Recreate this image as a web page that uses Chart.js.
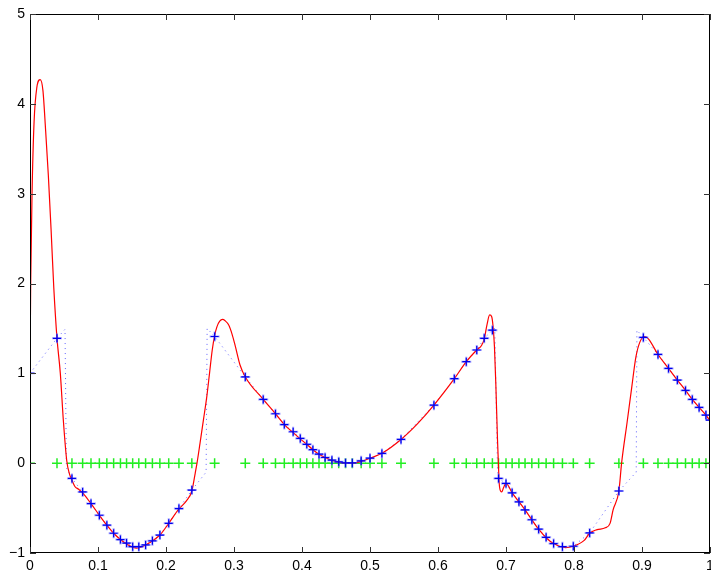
<!DOCTYPE html>
<html>
<head>
<meta charset="utf-8">
<script src="https://cdn.jsdelivr.net/npm/chart.js@4"></script>
<style>
  body { margin: 0; background: #fff; }
  canvas { display: block; }
</style>
</head>
<body>
<canvas id="myChart" width="711" height="574"></canvas>
<script>
// sample points (blue/black + markers, green + at zero)
const sampleX = [0, 0.0397, 0.0617, 0.0774, 0.0897, 0.102, 0.113, 0.123, 0.133, 0.142,
    0.151, 0.160, 0.170, 0.180, 0.191, 0.204, 0.219, 0.238, 0.2715, 0.3166,
    0.343, 0.361, 0.374, 0.387, 0.3975, 0.407, 0.416, 0.425, 0.434, 0.444,
    0.454, 0.464, 0.474, 0.487, 0.500, 0.5175, 0.5456, 0.594, 0.624, 0.6416,
    0.657, 0.668, 0.680, 0.689, 0.700, 0.709, 0.719, 0.728, 0.738, 0.748,
    0.759, 0.770, 0.783, 0.799, 0.823, 0.866, 0.902, 0.9235, 0.939, 0.952,
    0.964, 0.974, 0.984, 0.994, 1.0];
const sampleY = [1.0, 1.39, -0.17, -0.32, -0.45, -0.58, -0.69, -0.78, -0.85, -0.89,
    -0.93, -0.93, -0.91, -0.865, -0.80, -0.67, -0.505, -0.30, 1.41, 0.96,
    0.71, 0.55, 0.43, 0.35, 0.275, 0.21, 0.15, 0.10, 0.063, 0.033,
    0.015, 0.003, 0.003, 0.026, 0.056, 0.108, 0.264, 0.646, 0.94, 1.13,
    1.26, 1.39, 1.48, -0.17, -0.226, -0.33, -0.43, -0.52, -0.63, -0.735,
    -0.825, -0.895, -0.93, -0.925, -0.776, -0.31, 1.40, 1.21, 1.055, 0.925,
    0.81, 0.71, 0.62, 0.535, 0.48];

// extra corners of the dotted reference function (inserted by x)
const cornerX = [0.0515, 0.0535, 0.259, 0.2605, 0.6835, 0.6875, 0.8915, 0.8925];
const cornerY = [1.49, -0.05, -0.10, 1.50, 1.50, -0.08, -0.10, 1.48];

// red fitted curve
const fitX = [0, 0.001, 0.003, 0.006, 0.010, 0.015, 0.019, 0.023, 0.027, 0.031,
    0.035, 0.0397, 0.0446, 0.049, 0.054, 0.058, 0.0617, 0.066, 0.0715, 0.0774,
    0.0897, 0.102, 0.113, 0.123, 0.133, 0.142, 0.151, 0.157, 0.165, 0.175,
    0.191, 0.204, 0.219, 0.230, 0.238, 0.243, 0.2456, 0.250, 0.255, 0.260,
    0.264, 0.268, 0.2715, 0.275, 0.279, 0.283, 0.287, 0.292, 0.297, 0.302,
    0.309, 0.3166, 0.343, 0.361, 0.374, 0.387, 0.3975, 0.407, 0.416, 0.425,
    0.434, 0.444, 0.454, 0.465, 0.475, 0.487, 0.500, 0.5175, 0.5456, 0.570,
    0.594, 0.624, 0.6416, 0.657, 0.664, 0.668, 0.672, 0.676, 0.679, 0.681,
    0.683, 0.685, 0.6875, 0.689, 0.690, 0.692, 0.694, 0.696, 0.700, 0.709,
    0.719, 0.728, 0.738, 0.748, 0.759, 0.770, 0.7875, 0.799, 0.815, 0.823,
    0.834, 0.846, 0.853, 0.8575, 0.866, 0.870, 0.878, 0.885, 0.891, 0.897,
    0.904, 0.9097, 0.9235, 0.939, 0.952, 0.964, 0.974, 0.984, 0.994, 1.0];
const fitY = [1.0, 2.0, 3.0, 3.8, 4.18, 4.27, 4.15, 3.7, 3.2, 2.6,
    1.95, 1.39, 1.0, 0.48, 0.03, -0.12, -0.19, -0.26, -0.29, -0.33,
    -0.45, -0.58, -0.69, -0.78, -0.85, -0.90, -0.935, -0.945, -0.93, -0.89,
    -0.80, -0.67, -0.51, -0.42, -0.31, -0.11, 0.0, 0.22, 0.48, 0.74,
    1.0, 1.26, 1.42, 1.52, 1.58, 1.60, 1.585, 1.54, 1.44, 1.30,
    1.09, 0.96, 0.71, 0.55, 0.43, 0.34, 0.27, 0.21, 0.15, 0.10,
    0.063, 0.03, 0.012, 0.0, 0.0, 0.02, 0.055, 0.11, 0.264, 0.44,
    0.646, 0.94, 1.13, 1.26, 1.31, 1.38, 1.54, 1.65, 1.63, 1.52,
    1.3, 0.89, 0.26, -0.04, -0.22, -0.31, -0.32, -0.28, -0.226, -0.33,
    -0.43, -0.52, -0.63, -0.735, -0.83, -0.895, -0.94, -0.925, -0.86, -0.78,
    -0.74, -0.72, -0.67, -0.52, -0.31, 0.0, 0.45, 0.85, 1.18, 1.35,
    1.41, 1.38, 1.21, 1.055, 0.925, 0.81, 0.71, 0.62, 0.535, 0.47];

const xTicks = [0, 0.1, 0.2, 0.3, 0.4, 0.5, 0.6, 0.7, 0.8, 0.9, 1];
const yTicks = [-1, 0, 1, 2, 3, 4, 5];

document.addEventListener("DOMContentLoaded", function () {
    const samples = sampleX.map((x, i) => ({ x: x, y: sampleY[i] }));
    const zeros = sampleX.map((x) => ({ x: x, y: 0 }));
    const fit = fitX.map((x, i) => ({ x: x, y: fitY[i] }));
    const dotted = samples
        .concat(cornerX.map((x, i) => ({ x: x, y: cornerY[i] })))
        .sort((a, b) => a.x - b.x);

    // MATLAB-ish box with inward ticks
    const boxTicks = {
        id: "boxTicks",
        afterDraw(chart) {
            const ctx = chart.ctx;
            const a = chart.chartArea;
            const xs = chart.scales.x, ys = chart.scales.y;
            const len = 6;
            ctx.save();
            ctx.strokeStyle = "#000";
            ctx.lineWidth = 1;
            ctx.strokeRect(Math.round(a.left) + 0.5, Math.round(a.top) + 0.5,
                Math.round(a.right - a.left) - 1, Math.round(a.bottom - a.top) - 1);
            ctx.strokeStyle = "#333";
            ctx.beginPath();
            xTicks.forEach(function (v) {
                const p = Math.round(xs.getPixelForValue(v)) + 0.5;
                ctx.moveTo(p, a.bottom); ctx.lineTo(p, a.bottom - len);
                ctx.moveTo(p, a.top); ctx.lineTo(p, a.top + len);
            });
            yTicks.forEach(function (v) {
                const p = Math.round(ys.getPixelForValue(v)) + 0.5;
                ctx.moveTo(a.left, p); ctx.lineTo(a.left + len, p);
                ctx.moveTo(a.right, p); ctx.lineTo(a.right - len, p);
            });
            ctx.stroke();
            ctx.restore();
        },
    };

    new Chart(document.getElementById("myChart"), {
        type: "scatter",
        data: {
            datasets: [
                {
                    label: "samples",
                    data: samples,
                    pointStyle: "cross",
                    pointRadius: 4,
                    borderColor: "#0000ee",
                    borderWidth: 1.2,
                    showLine: false,
                    order: 0,
                },
                {
                    label: "samples (light)",
                    data: samples,
                    pointStyle: "cross",
                    pointRadius: 5,
                    borderColor: "rgba(90,90,255,0.55)",
                    borderWidth: 2,
                    showLine: false,
                    order: 1,
                },
                {
                    label: "fit",
                    data: fit,
                    showLine: true,
                    borderColor: "#ff0000",
                    borderWidth: 1.2,
                    pointRadius: 0,
                    cubicInterpolationMode: "monotone",
                    order: 2,
                },
                {
                    label: "nodes",
                    data: zeros,
                    pointStyle: "cross",
                    pointRadius: 5,
                    borderColor: "#22ee22",
                    borderWidth: 1.5,
                    showLine: false,
                    order: 3,
                },
                {
                    label: "reference",
                    data: dotted,
                    showLine: true,
                    borderColor: "rgba(60,60,255,0.8)",
                    borderWidth: 1,
                    borderDash: [1, 4],
                    pointRadius: 0,
                    tension: 0,
                    order: 4,
                },
            ],
        },
        options: {
            responsive: false,
            animation: false,
            layout: { autoPadding: false, padding: { top: 14, right: 1, left: 0, bottom: 0 } },
            plugins: {
                legend: { display: false },
                tooltip: { enabled: false },
            },
            scales: {
                x: {
                    type: "linear",
                    min: 0,
                    max: 1,
                    afterFit: function (scale) {
                        scale.height = 21;
                        scale.paddingLeft = 0;
                        scale.paddingRight = 0;
                    },
                    afterBuildTicks: function (scale) {
                        scale.ticks = xTicks.map((v) => ({ value: v }));
                    },
                    grid: { display: false, drawTicks: false },
                    border: { display: false },
                    ticks: {
                        autoSkip: false,
                        maxRotation: 0,
                        padding: 5,
                        color: "#000",
                        font: { family: "Liberation Sans", size: 14 },
                        callback: (v) => String(Number(v.toFixed(1))),
                    },
                },
                y: {
                    type: "linear",
                    min: -1,
                    max: 5,
                    afterFit: function (scale) {
                        scale.width = 30;
                        scale.paddingTop = 0;
                        scale.paddingBottom = 0;
                    },
                    afterBuildTicks: function (scale) {
                        scale.ticks = yTicks.map((v) => ({ value: v }));
                    },
                    grid: { display: false, drawTicks: false },
                    border: { display: false },
                    ticks: {
                        autoSkip: false,
                        padding: 5,
                        color: "#000",
                        font: { family: "Liberation Sans", size: 14 },
                        callback: (v) => (v < 0 ? "\u2212" + Math.abs(v) : String(v)),
                    },
                },
            },
        },
        plugins: [boxTicks],
    });
});
</script>
</body>
</html>
